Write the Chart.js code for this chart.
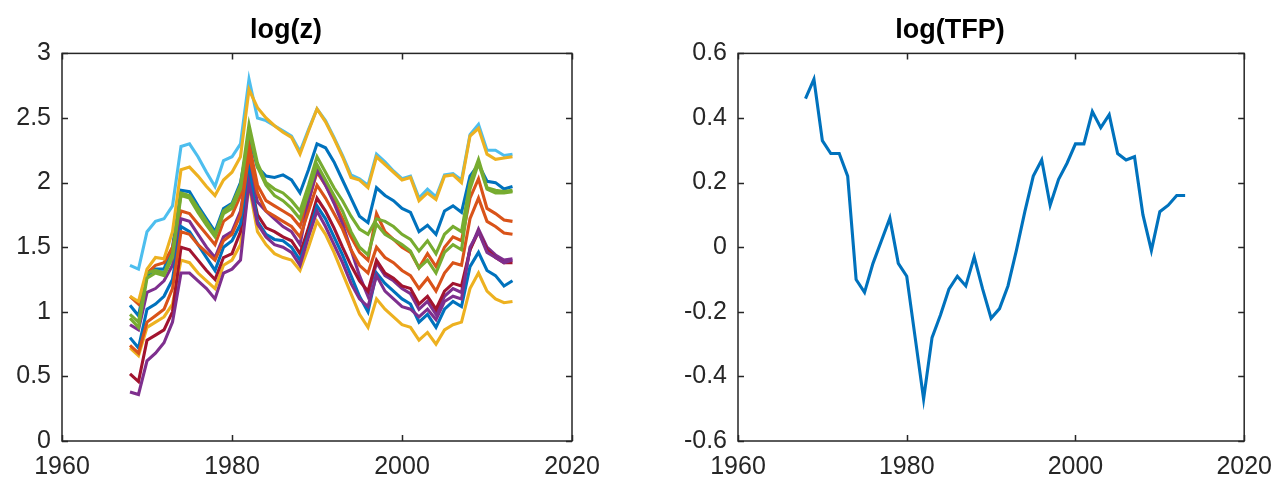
<!DOCTYPE html>
<html>
<head>
<meta charset="utf-8">
<script src="https://cdn.jsdelivr.net/npm/chart.js@4.4.1/dist/chart.umd.min.js"></script>
<style>
  html, body { margin: 0; padding: 0; background: #fff; }
  #wrap { position: relative; width: 1283px; height: 483px; }
  canvas { position: absolute; top: 0; }
  #zChart { left: 0; }
  #tfpChart { left: 650px; }
</style>
</head>
<body>
<div id="wrap">
  <canvas id="zChart" width="650" height="483"></canvas>
  <canvas id="tfpChart" width="633" height="483"></canvas>
</div>
<script>
// years 1968-2013
const years = [1968, 1969, 1970, 1971, 1972, 1973, 1974, 1975, 1976, 1977,
    1978, 1979, 1980, 1981, 1982, 1983, 1984, 1985, 1986, 1987,
    1988, 1989, 1990, 1991, 1992, 1993, 1994, 1995, 1996, 1997,
    1998, 1999, 2000, 2001, 2002, 2003, 2004, 2005, 2006, 2007,
    2008, 2009, 2010, 2011, 2012, 2013];

// log(z), one array per line (MATLAB colour order)
const logZ1 = [1.05, 0.97, 1.28, 1.33, 1.33, 1.50, 1.94, 1.93, 1.82, 1.72,
    1.62, 1.80, 1.84, 2.00, 2.35, 2.12, 2.05, 2.04, 2.06, 2.02,
    1.92, 2.10, 2.30, 2.27, 2.16, 2.02, 1.88, 1.74, 1.69, 1.96,
    1.90, 1.86, 1.80, 1.77, 1.62, 1.67, 1.60, 1.78, 1.82, 1.77,
    2.05, 2.14, 2.01, 2.00, 1.95, 1.97];
const logZ2 = [1.12, 1.06, 1.30, 1.36, 1.38, 1.50, 1.78, 1.76, 1.68, 1.60,
    1.52, 1.70, 1.75, 1.90, 2.30, 1.98, 1.86, 1.82, 1.78, 1.74,
    1.66, 1.86, 2.08, 1.98, 1.86, 1.72, 1.58, 1.46, 1.40, 1.76,
    1.62, 1.56, 1.50, 1.46, 1.34, 1.45, 1.35, 1.50, 1.58, 1.55,
    1.88, 2.03, 1.80, 1.76, 1.71, 1.70];
const logZ3 = [0.72, 0.66, 0.88, 0.92, 0.96, 1.06, 1.40, 1.38, 1.30, 1.24,
    1.18, 1.36, 1.40, 1.52, 1.98, 1.62, 1.52, 1.45, 1.42, 1.40,
    1.32, 1.50, 1.70, 1.60, 1.46, 1.30, 1.14, 0.98, 0.88, 1.10,
    1.02, 0.96, 0.90, 0.88, 0.78, 0.84, 0.75, 0.86, 0.90, 0.92,
    1.18, 1.30, 1.16, 1.10, 1.07, 1.08];
const logZ4 = [0.90, 0.86, 1.15, 1.18, 1.24, 1.36, 1.72, 1.70, 1.60, 1.50,
    1.42, 1.58, 1.62, 1.78, 2.15, 1.85, 1.78, 1.72, 1.66, 1.62,
    1.52, 1.85, 2.10, 1.98, 1.84, 1.68, 1.48, 1.28, 1.12, 1.38,
    1.28, 1.24, 1.18, 1.14, 1.02, 1.08, 0.98, 1.12, 1.18, 1.15,
    1.48, 1.64, 1.50, 1.44, 1.40, 1.41];
const logZ5 = [0.98, 0.92, 1.30, 1.32, 1.30, 1.45, 1.92, 1.90, 1.80, 1.70,
    1.60, 1.78, 1.83, 1.98, 2.45, 2.15, 2.00, 1.95, 1.92, 1.86,
    1.78, 1.98, 2.20, 2.08, 1.96, 1.86, 1.74, 1.64, 1.60, 1.72,
    1.70, 1.66, 1.60, 1.56, 1.47, 1.55, 1.45, 1.60, 1.66, 1.62,
    2.00, 2.18, 1.96, 1.94, 1.93, 1.94];
const logZ6 = [1.36, 1.33, 1.62, 1.70, 1.72, 1.82, 2.28, 2.30, 2.20, 2.08,
    1.97, 2.17, 2.20, 2.30, 2.80, 2.50, 2.48, 2.44, 2.40, 2.36,
    2.24, 2.41, 2.57, 2.48, 2.35, 2.21, 2.06, 2.03, 1.98, 2.22,
    2.16, 2.09, 2.03, 2.05, 1.88, 1.95, 1.89, 2.06, 2.07, 2.02,
    2.37, 2.45, 2.25, 2.25, 2.21, 2.22];
const logZ7 = [0.52, 0.46, 0.78, 0.82, 0.86, 1.00, 1.50, 1.48, 1.40, 1.32,
    1.25, 1.42, 1.45, 1.62, 2.05, 1.75, 1.65, 1.62, 1.58, 1.55,
    1.45, 1.65, 1.88, 1.78, 1.65, 1.50, 1.36, 1.24, 1.16, 1.40,
    1.30, 1.26, 1.20, 1.18, 1.06, 1.12, 1.02, 1.16, 1.22, 1.20,
    1.48, 1.62, 1.48, 1.42, 1.38, 1.38];
const logZ8 = [0.80, 0.72, 1.02, 1.06, 1.12, 1.25, 1.66, 1.62, 1.52, 1.42,
    1.32, 1.50, 1.55, 1.68, 2.10, 1.70, 1.60, 1.56, 1.55, 1.50,
    1.40, 1.60, 1.82, 1.72, 1.58, 1.44, 1.28, 1.12, 1.00, 1.30,
    1.22, 1.16, 1.10, 1.06, 0.92, 0.98, 0.88, 1.02, 1.08, 1.04,
    1.35, 1.46, 1.32, 1.28, 1.20, 1.24];
const logZ9 = [0.74, 0.68, 0.92, 0.97, 1.02, 1.18, 1.62, 1.60, 1.52, 1.46,
    1.40, 1.55, 1.60, 1.75, 2.22, 1.92, 1.78, 1.74, 1.70, 1.66,
    1.58, 1.78, 1.98, 1.88, 1.76, 1.64, 1.48, 1.36, 1.30, 1.50,
    1.42, 1.38, 1.32, 1.28, 1.18, 1.26, 1.16, 1.30, 1.38, 1.36,
    1.72, 1.88, 1.70, 1.66, 1.61, 1.60];
const logZ10 = [1.12, 1.08, 1.33, 1.42, 1.41, 1.62, 2.10, 2.12, 2.05, 1.97,
    1.90, 2.02, 2.08, 2.20, 2.72, 2.58, 2.50, 2.44, 2.39, 2.35,
    2.22, 2.40, 2.57, 2.47, 2.34, 2.20, 2.04, 2.02, 1.96, 2.20,
    2.14, 2.08, 2.02, 2.04, 1.86, 1.92, 1.87, 2.05, 2.06, 2.00,
    2.36, 2.42, 2.22, 2.18, 2.19, 2.20];
const logZ11 = [0.38, 0.36, 0.62, 0.68, 0.76, 0.92, 1.30, 1.30, 1.24, 1.18,
    1.10, 1.30, 1.33, 1.40, 2.00, 1.68, 1.58, 1.52, 1.50, 1.46,
    1.36, 1.58, 1.78, 1.66, 1.52, 1.38, 1.22, 1.10, 1.04, 1.28,
    1.16, 1.10, 1.04, 1.02, 0.96, 1.02, 0.94, 1.08, 1.12, 1.10,
    1.50, 1.62, 1.46, 1.42, 1.38, 1.40];
const logZ12 = [0.95, 0.88, 1.26, 1.30, 1.28, 1.42, 1.90, 1.88, 1.77, 1.67,
    1.58, 1.76, 1.80, 1.95, 2.40, 2.12, 1.98, 1.90, 1.86, 1.80,
    1.72, 1.92, 2.14, 2.02, 1.90, 1.78, 1.62, 1.50, 1.44, 1.68,
    1.60, 1.56, 1.52, 1.47, 1.34, 1.40, 1.30, 1.46, 1.52, 1.48,
    1.95, 2.15, 1.95, 1.92, 1.92, 1.93];

// log(TFP)
const logTFP = [0.46, 0.52, 0.33, 0.29, 0.29, 0.22, -0.10, -0.14, -0.05, 0.02,
    0.09, -0.05, -0.09, -0.28, -0.47, -0.28, -0.21, -0.13, -0.09, -0.12,
    -0.03, -0.13, -0.22, -0.19, -0.12, -0.01, 0.11, 0.22, 0.27, 0.13,
    0.21, 0.26, 0.32, 0.32, 0.42, 0.37, 0.41, 0.29, 0.27, 0.28,
    0.10, -0.01, 0.11, 0.13, 0.16, 0.16];

const xTicks = [1960, 1980, 2000, 2020];
const xTickLabels = ['1960', '1980', '2000', '2020'];
const zTicks = [0, 0.5, 1, 1.5, 2, 2.5, 3];
const zTickLabels = ['0', '0.5', '1', '1.5', '2', '2.5', '3'];
const tfpTicks = [-0.6, -0.4, -0.2, 0, 0.2, 0.4, 0.6];
const tfpTickLabels = ['-0.6', '-0.4', '-0.2', '0', '0.2', '0.4', '0.6'];

const matlabColors = ['#0072BD', '#D95319', '#EDB120', '#7E2F8E', '#77AC30', '#4DBEEE', '#A2142F'];

const FONT = "'Liberation Sans', Arial, Helvetica, sans-serif";
const AXIS_COLOR = '#262626';

// box all round with ticks pointing inward, like MATLAB
const matlabAxes = {
    id: 'matlabAxes',
    afterDatasetsDraw(chart) {
        const { ctx, chartArea: a, scales: { x, y } } = chart;
        const len = 6;
        ctx.save();
        ctx.strokeStyle = AXIS_COLOR;
        ctx.lineWidth = 1.5;
        ctx.beginPath();
        x.ticks.forEach(t => {
            const px = Math.round(x.getPixelForValue(t.value)) + 0.5;
            ctx.moveTo(px, a.bottom); ctx.lineTo(px, a.bottom - len);
            ctx.moveTo(px, a.top); ctx.lineTo(px, a.top + len);
        });
        y.ticks.forEach(t => {
            const py = Math.round(y.getPixelForValue(t.value)) + 0.5;
            ctx.moveTo(a.left, py); ctx.lineTo(a.left + len, py);
            ctx.moveTo(a.right, py); ctx.lineTo(a.right - len, py);
        });
        ctx.stroke();
        ctx.strokeRect(a.left, a.top, a.right - a.left, a.bottom - a.top);
        ctx.restore();
    }
};

function labelFor(ticks, labels) {
    return v => {
        const i = ticks.findIndex(t => Math.abs(t - v) < 1e-9);
        return i >= 0 ? labels[i] : '';
    };
}

function makeOptions(title, yMin, yMax, yTicks, yLabels, leftWidth, rightPad) {
    const tickFont = { family: FONT, size: 25 };
    return {
        responsive: false,
        animation: false,
        layout: { padding: { left: 0, right: rightPad, top: 0, bottom: 0 } },
        elements: {
            point: { radius: 0 },
            line: { borderWidth: 3.1, tension: 0 }
        },
        plugins: {
            legend: { display: false },
            tooltip: { enabled: false },
            title: {
                display: true,
                text: title,
                color: '#000',
                font: { family: FONT, size: 27, weight: 'bold', lineHeight: 1.2 },
                padding: { top: 14, bottom: 7 }
            }
        },
        scales: {
            x: {
                type: 'linear',
                min: 1960,
                max: 2020,
                grid: { display: false, drawTicks: false },
                border: { display: false },
                afterBuildTicks: s => { s.ticks = xTicks.map(v => ({ value: v })); },
                ticks: {
                    color: AXIS_COLOR,
                    font: tickFont,
                    padding: 11,
                    maxRotation: 0,
                    autoSkip: false,
                    callback: labelFor(xTicks, xTickLabels)
                },
                afterFit: s => { s.height = 42; }
            },
            y: {
                type: 'linear',
                min: yMin,
                max: yMax,
                grid: { display: false, drawTicks: false },
                border: { display: false },
                afterBuildTicks: s => { s.ticks = yTicks.map(v => ({ value: v })); },
                ticks: {
                    color: AXIS_COLOR,
                    font: tickFont,
                    padding: 11,
                    autoSkip: false,
                    callback: labelFor(yTicks, yLabels)
                },
                afterFit: s => { s.width = leftWidth; }
            }
        }
    };
}

const zSeries = [logZ1, logZ2, logZ3, logZ4, logZ5, logZ6, logZ7, logZ8, logZ9, logZ10, logZ11, logZ12];

const zChart = new Chart(document.getElementById('zChart'), {
    type: 'line',
    data: {
        datasets: zSeries.map((vals, i) => ({
            data: years.map((yr, k) => ({ x: yr, y: vals[k] })),
            borderColor: matlabColors[i % matlabColors.length],
            order: zSeries.length - i   // later lines drawn on top, as in MATLAB
        }))
    },
    options: makeOptions('log(z)', 0, 3, zTicks, zTickLabels, 62, 78),
    plugins: [matlabAxes]
});

const tfpChart = new Chart(document.getElementById('tfpChart'), {
    type: 'line',
    data: {
        datasets: [{
            data: years.map((yr, k) => ({ x: yr, y: logTFP[k] })),
            borderColor: matlabColors[0]
        }]
    },
    options: makeOptions('log(TFP)', -0.6, 0.6, tfpTicks, tfpTickLabels, 88, 33),
    plugins: [matlabAxes]
});
</script>
</body>
</html>
